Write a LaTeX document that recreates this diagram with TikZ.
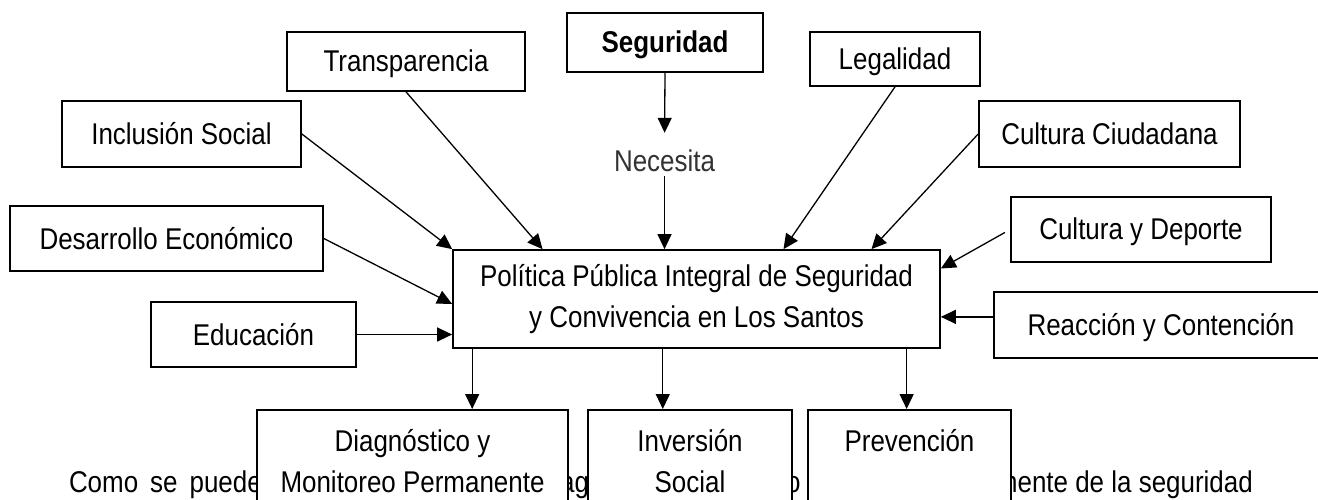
\documentclass[tikz,border=0pt]{standalone}
\usepackage{fontspec}
\setmainfont{Liberation Sans}[FakeStretch=0.865]
\usetikzlibrary{arrows.meta,calc}
\begin{document}
\begin{tikzpicture}[x=1pt,y=-1pt,
  every node/.style={font=\fontsize{30}{41}\selectfont},
  box/.style={draw, line width=1.7pt, fill=white, inner sep=0pt, text height=22.5pt, text depth=1.5pt},
  mbox/.style={draw, line width=1.7pt, fill=white, align=center, inner xsep=0pt, inner ysep=20pt, anchor=north},
  frag/.style={inner sep=0pt},
  arr/.style={line width=1.3pt, -{Triangle[length=15pt,width=14pt]}}]
\useasboundingbox (0,0) rectangle (1318,500);
\fill[white] (0,0) rectangle (1318,500);
\clip (0,0) rectangle (1318,500);

% paragraph fragments behind the lower boxes
\node[frag, anchor=base east] (p1) at (262,492) {Como\hskip 12pt se\hskip 12pt puede};
\node[frag, anchor=base west] (p2) at (560,492) {ag};
\node[frag, anchor=base west] (p3) at (786,492) {o};
\node[frag, anchor=base east] (p4) at (1253,492) {nente de la seguridad};

% boxes
\node[box, minimum width=196pt, minimum height=59pt, font=\fontsize{30}{41}\selectfont\bfseries] (segur) at (665,42.5) {Seguridad};
\node[box, minimum width=238pt, minimum height=59pt] (transp) at (406,61.5) {Transparencia};
\node[box, minimum width=170pt, minimum height=54pt] (legal) at (895,59) {Legalidad};
\node[box, minimum width=239pt, minimum height=66pt] (incl) at (181.5,134) {Inclusión Social};
\node[box, minimum width=261pt, minimum height=66pt] (cciud) at (1109.5,134) {Cultura Ciudadana};
\node[box, minimum width=313pt, minimum height=65pt] (desar) at (166.5,238.5) {Desarrollo Económico};
\node[box, minimum width=260pt, minimum height=65pt] (cdep) at (1141,229.5) {Cultura y Deporte};
\node[box, minimum width=205pt, minimum height=65pt] (educ) at (253.5,334.5) {Educación};
\node[box, minimum width=334pt, minimum height=66pt] (reac) at (1161,325) {Reacción y Contención};
\node[inner sep=0pt, text height=22.5pt, text depth=1.5pt, text=black!80] (neces) at (664.5,161) {Necesita};
\node[draw, line width=1.7pt, fill=white, align=center, minimum width=487pt, minimum height=98pt, inner sep=0pt] (central) at (696.5,299) {Política Pública Integral de Seguridad\\y Convivencia en Los Santos};

\node[mbox, minimum width=311pt] (diag) at (412.5,409) {Diagnóstico y\\Monitoreo Permanente};
\node[mbox, minimum width=204pt] (inver) at (690,409) {Inversión\\Social};
\node[mbox, minimum width=203pt] (prev) at (909.5,409) {Prevención\\\mbox{}};

% anchor points on the central box
\coordinate (cTr) at ($(central.north west)!0.185!(central.north east)$);
\coordinate (cLe) at ($(central.north west)!0.678!(central.north east)$);
\coordinate (cCc) at ($(central.north west)!0.858!(central.north east)$);
\coordinate (cDe) at ($(central.north west)!0.55!(central.south west)$);
\coordinate (cCd) at ($(central.north east)!0.194!(central.south east)$);
\coordinate (rW) at ($(reac.north west)!0.38!(reac.south west)$);
\coordinate (s1) at ($(central.south west)!0.041!(central.south east)$);
\coordinate (s2) at ($(central.south west)!0.431!(central.south east)$);
\coordinate (s3) at ($(central.south west)!0.930!(central.south east)$);

% connectors
\draw[arr, shorten >=16pt] (segur.south) -- (neces.north);
\draw[arr, shorten <=3pt] (neces.south) -- (neces.south |- central.north);
\draw[arr] (transp.south) -- (cTr);
\draw[arr] (incl.east) -- (central.north west);
\draw[arr] (desar.east) -- (cDe);
\draw[arr] (educ.east) -- (educ.east -| central.west);
\draw[arr] (legal.south) -- (cLe);
\draw[arr] (cciud.west) -- (cCc);
\draw[arr, shorten <=6pt] (cdep.west) -- (cCd);
\draw[arr] (rW) -- (rW -| central.east);
\draw[arr] (s1) -- (s1 |- diag.north);
\draw[arr] (s2) -- (s2 |- inver.north);
\draw[arr] (s3) -- (s3 |- prev.north);
\end{tikzpicture}
\end{document}
